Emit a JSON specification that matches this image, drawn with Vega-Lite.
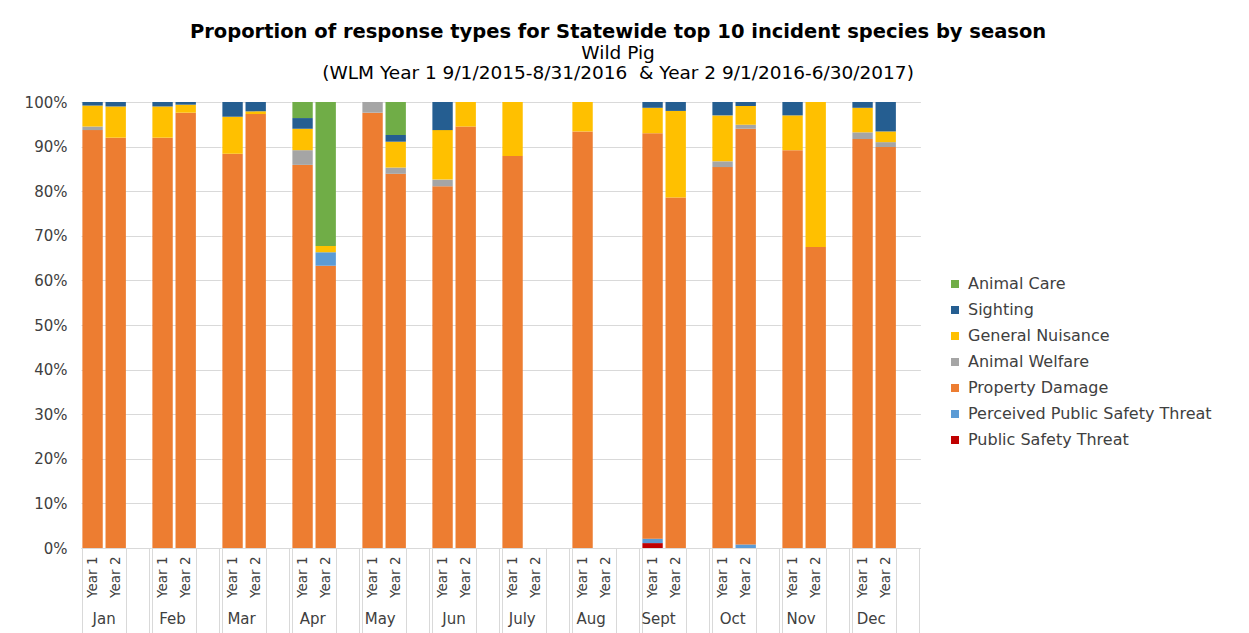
{
  "$schema": "https://vega.github.io/schema/vega-lite/v6.json",
  "background": "white",
  "padding": {"left": 24, "top": 22, "right": 5, "bottom": 0},
  "bounds": "flush",
  "title": {
    "text": "Proportion of response types for Statewide top 10 incident species by season",
    "subtitle": ["Wild Pig", "(WLM Year 1 9/1/2015-8/31/2016 \u00a0& Year 2 9/1/2016-6/30/2017)"],
    "anchor": "middle",
    "frame": "bounds",
    "font": "DejaVu Sans",
    "fontSize": 19.5,
    "fontWeight": "bold",
    "color": "black",
    "subtitleFont": "DejaVu Sans",
    "subtitleFontSize": 18.5,
    "subtitleLineHeight": 20,
    "subtitleColor": "black",
    "subtitlePadding": 1,
    "offset": 12
  },
  "data": {
    "values": [
      {"month": "Jan", "year": "Year 1", "response": "Property Damage", "pct": 93.7},
      {"month": "Jan", "year": "Year 1", "response": "Animal Welfare", "pct": 0.8},
      {"month": "Jan", "year": "Year 1", "response": "General Nuisance", "pct": 4.7},
      {"month": "Jan", "year": "Year 1", "response": "Sighting", "pct": 0.8},
      {"month": "Jan", "year": "Year 2", "response": "Property Damage", "pct": 92.0},
      {"month": "Jan", "year": "Year 2", "response": "General Nuisance", "pct": 7.0},
      {"month": "Jan", "year": "Year 2", "response": "Sighting", "pct": 1.0},
      {"month": "Feb", "year": "Year 1", "response": "Property Damage", "pct": 92.0},
      {"month": "Feb", "year": "Year 1", "response": "General Nuisance", "pct": 7.0},
      {"month": "Feb", "year": "Year 1", "response": "Sighting", "pct": 1.0},
      {"month": "Feb", "year": "Year 2", "response": "Property Damage", "pct": 97.6},
      {"month": "Feb", "year": "Year 2", "response": "General Nuisance", "pct": 1.8},
      {"month": "Feb", "year": "Year 2", "response": "Sighting", "pct": 0.6},
      {"month": "Mar", "year": "Year 1", "response": "Property Damage", "pct": 88.4},
      {"month": "Mar", "year": "Year 1", "response": "General Nuisance", "pct": 8.3},
      {"month": "Mar", "year": "Year 1", "response": "Sighting", "pct": 3.3},
      {"month": "Mar", "year": "Year 2", "response": "Property Damage", "pct": 97.3},
      {"month": "Mar", "year": "Year 2", "response": "General Nuisance", "pct": 0.6},
      {"month": "Mar", "year": "Year 2", "response": "Sighting", "pct": 2.1},
      {"month": "Apr", "year": "Year 1", "response": "Property Damage", "pct": 85.9},
      {"month": "Apr", "year": "Year 1", "response": "Animal Welfare", "pct": 3.3},
      {"month": "Apr", "year": "Year 1", "response": "General Nuisance", "pct": 4.8},
      {"month": "Apr", "year": "Year 1", "response": "Sighting", "pct": 2.4},
      {"month": "Apr", "year": "Year 1", "response": "Animal Care", "pct": 3.6},
      {"month": "Apr", "year": "Year 2", "response": "Property Damage", "pct": 63.3},
      {"month": "Apr", "year": "Year 2", "response": "Other", "pct": 3.0},
      {"month": "Apr", "year": "Year 2", "response": "General Nuisance", "pct": 1.4},
      {"month": "Apr", "year": "Year 2", "response": "Animal Care", "pct": 32.3},
      {"month": "May", "year": "Year 1", "response": "Property Damage", "pct": 97.6},
      {"month": "May", "year": "Year 1", "response": "Animal Welfare", "pct": 2.4},
      {"month": "May", "year": "Year 2", "response": "Property Damage", "pct": 83.9},
      {"month": "May", "year": "Year 2", "response": "Animal Welfare", "pct": 1.4},
      {"month": "May", "year": "Year 2", "response": "General Nuisance", "pct": 5.8},
      {"month": "May", "year": "Year 2", "response": "Sighting", "pct": 1.5},
      {"month": "May", "year": "Year 2", "response": "Animal Care", "pct": 7.4},
      {"month": "Jun", "year": "Year 1", "response": "Property Damage", "pct": 81.1},
      {"month": "Jun", "year": "Year 1", "response": "Animal Welfare", "pct": 1.5},
      {"month": "Jun", "year": "Year 1", "response": "General Nuisance", "pct": 11.1},
      {"month": "Jun", "year": "Year 1", "response": "Sighting", "pct": 6.3},
      {"month": "Jun", "year": "Year 2", "response": "Property Damage", "pct": 94.5},
      {"month": "Jun", "year": "Year 2", "response": "General Nuisance", "pct": 5.5},
      {"month": "July", "year": "Year 1", "response": "Property Damage", "pct": 87.9},
      {"month": "July", "year": "Year 1", "response": "General Nuisance", "pct": 12.1},
      {"month": "Aug", "year": "Year 1", "response": "Property Damage", "pct": 93.4},
      {"month": "Aug", "year": "Year 1", "response": "General Nuisance", "pct": 6.6},
      {"month": "Sept", "year": "Year 1", "response": "Public Safety Threat", "pct": 1.1},
      {"month": "Sept", "year": "Year 1", "response": "Perceived Public Safety Threat", "pct": 1.0},
      {"month": "Sept", "year": "Year 1", "response": "Property Damage", "pct": 90.9},
      {"month": "Sept", "year": "Year 1", "response": "General Nuisance", "pct": 5.7},
      {"month": "Sept", "year": "Year 1", "response": "Sighting", "pct": 1.3},
      {"month": "Sept", "year": "Year 2", "response": "Property Damage", "pct": 78.6},
      {"month": "Sept", "year": "Year 2", "response": "General Nuisance", "pct": 19.4},
      {"month": "Sept", "year": "Year 2", "response": "Sighting", "pct": 2.0},
      {"month": "Oct", "year": "Year 1", "response": "Property Damage", "pct": 85.4},
      {"month": "Oct", "year": "Year 1", "response": "Animal Welfare", "pct": 1.3},
      {"month": "Oct", "year": "Year 1", "response": "General Nuisance", "pct": 10.3},
      {"month": "Oct", "year": "Year 1", "response": "Sighting", "pct": 3.0},
      {"month": "Oct", "year": "Year 2", "response": "Perceived Public Safety Threat", "pct": 0.8},
      {"month": "Oct", "year": "Year 2", "response": "Property Damage", "pct": 93.2},
      {"month": "Oct", "year": "Year 2", "response": "Animal Welfare", "pct": 0.9},
      {"month": "Oct", "year": "Year 2", "response": "General Nuisance", "pct": 4.2},
      {"month": "Oct", "year": "Year 2", "response": "Sighting", "pct": 0.9},
      {"month": "Nov", "year": "Year 1", "response": "Property Damage", "pct": 89.2},
      {"month": "Nov", "year": "Year 1", "response": "General Nuisance", "pct": 7.8},
      {"month": "Nov", "year": "Year 1", "response": "Sighting", "pct": 3.0},
      {"month": "Nov", "year": "Year 2", "response": "Property Damage", "pct": 67.5},
      {"month": "Nov", "year": "Year 2", "response": "General Nuisance", "pct": 32.5},
      {"month": "Dec", "year": "Year 1", "response": "Property Damage", "pct": 91.7},
      {"month": "Dec", "year": "Year 1", "response": "Animal Welfare", "pct": 1.5},
      {"month": "Dec", "year": "Year 1", "response": "General Nuisance", "pct": 5.5},
      {"month": "Dec", "year": "Year 1", "response": "Sighting", "pct": 1.3},
      {"month": "Dec", "year": "Year 2", "response": "Property Damage", "pct": 89.9},
      {"month": "Dec", "year": "Year 2", "response": "Animal Welfare", "pct": 1.1},
      {"month": "Dec", "year": "Year 2", "response": "General Nuisance", "pct": 2.4},
      {"month": "Dec", "year": "Year 2", "response": "Sighting", "pct": 6.6}
    ]
  },
  "transform": [
    {
      "lookup": "response",
      "from": {
        "data": {
          "values": [
            {"response": "Public Safety Threat", "stackRank": 0},
            {"response": "Perceived Public Safety Threat", "stackRank": 1},
            {"response": "Property Damage", "stackRank": 2},
            {"response": "Other", "stackRank": 3},
            {"response": "Animal Welfare", "stackRank": 4},
            {"response": "General Nuisance", "stackRank": 5},
            {"response": "Sighting", "stackRank": 6},
            {"response": "Animal Care", "stackRank": 7}
          ]
        },
        "key": "response",
        "fields": ["stackRank"]
      }
    }
  ],
  "facet": {
    "column": {
      "field": "month",
      "type": "ordinal",
      "sort": ["Jan", "Feb", "Mar", "Apr", "May", "Jun", "July", "Aug", "Sept", "Oct", "Nov", "Dec"],
      "header": {
        "title": null,
        "labelOrient": "bottom",
        "labelAnchor": "middle",
        "labelAlign": "right",
        "labelFont": "DejaVu Sans",
        "labelFontSize": 15,
        "labelColor": "#404040",
        "labelPadding": -22
      }
    }
  },
  "spacing": 0,
  "spec": {
    "width": 69.4,
    "height": 446,
    "mark": {"type": "bar"},
    "encoding": {
      "x": {
        "field": "year",
        "type": "nominal",
        "scale": {"domain": ["Year 1", "Year 2", " "], "paddingInner": 0.12, "paddingOuter": 0.06},
        "axis": {
          "title": null,
          "labelAngle": -90,
          "labelFont": "DejaVu Sans",
          "labelFontSize": 13.5,
          "labelColor": "#404040",
          "labelPadding": -77,
          "domain": true,
          "domainColor": "#d9d9d9",
          "ticks": true,
          "tickBand": "extent",
          "tickSize": 85,
          "tickColor": {"condition": {"test": "datum.value === 'Year 1'", "value": "transparent"}, "value": "#d9d9d9"}
        }
      },
      "y": {
        "field": "pct",
        "type": "quantitative",
        "stack": "normalize",
        "scale": {"domain": [0, 1]},
        "axis": {
          "title": null,
          "format": ".0%",
          "values": [0, 0.1, 0.2, 0.3, 0.4, 0.5, 0.6, 0.7, 0.8, 0.9, 1],
          "domain": false,
          "ticks": false,
          "labelFont": "DejaVu Sans",
          "labelFontSize": 15,
          "labelColor": "#404040",
          "labelPadding": 14,
          "grid": true,
          "gridColor": "#d9d9d9"
        }
      },
      "order": {"field": "stackRank", "type": "quantitative", "sort": "ascending"},
      "color": {
        "field": "response",
        "type": "nominal",
        "sort": ["Animal Care", "Sighting", "General Nuisance", "Animal Welfare", "Other", "Property Damage", "Perceived Public Safety Threat", "Public Safety Threat"],
        "scale": {
          "domain": ["Animal Care", "Sighting", "General Nuisance", "Animal Welfare", "Other", "Property Damage", "Perceived Public Safety Threat", "Public Safety Threat"],
          "range": ["#70ad47", "#255e91", "#ffc000", "#a5a5a5", "#5b9bd5", "#ed7d31", "#5b9bd5", "#c00000"]
        },
        "legend": {
          "title": null,
          "values": ["Animal Care", "Sighting", "General Nuisance", "Animal Welfare", "Property Damage", "Perceived Public Safety Threat", "Public Safety Threat"],
          "orient": "none",
          "legendX": 866,
          "legendY": 174,
          "symbolType": "square",
          "symbolSize": 64,
          "symbolStrokeWidth": 0,
          "labelFont": "DejaVu Sans",
          "labelFontSize": 16,
          "labelLimit": 400,
          "labelColor": "#404040",
          "rowPadding": 10,
          "labelOffset": 5
        }
      }
    }
  },
  "config": {
    "view": {"stroke": null}
  }
}
